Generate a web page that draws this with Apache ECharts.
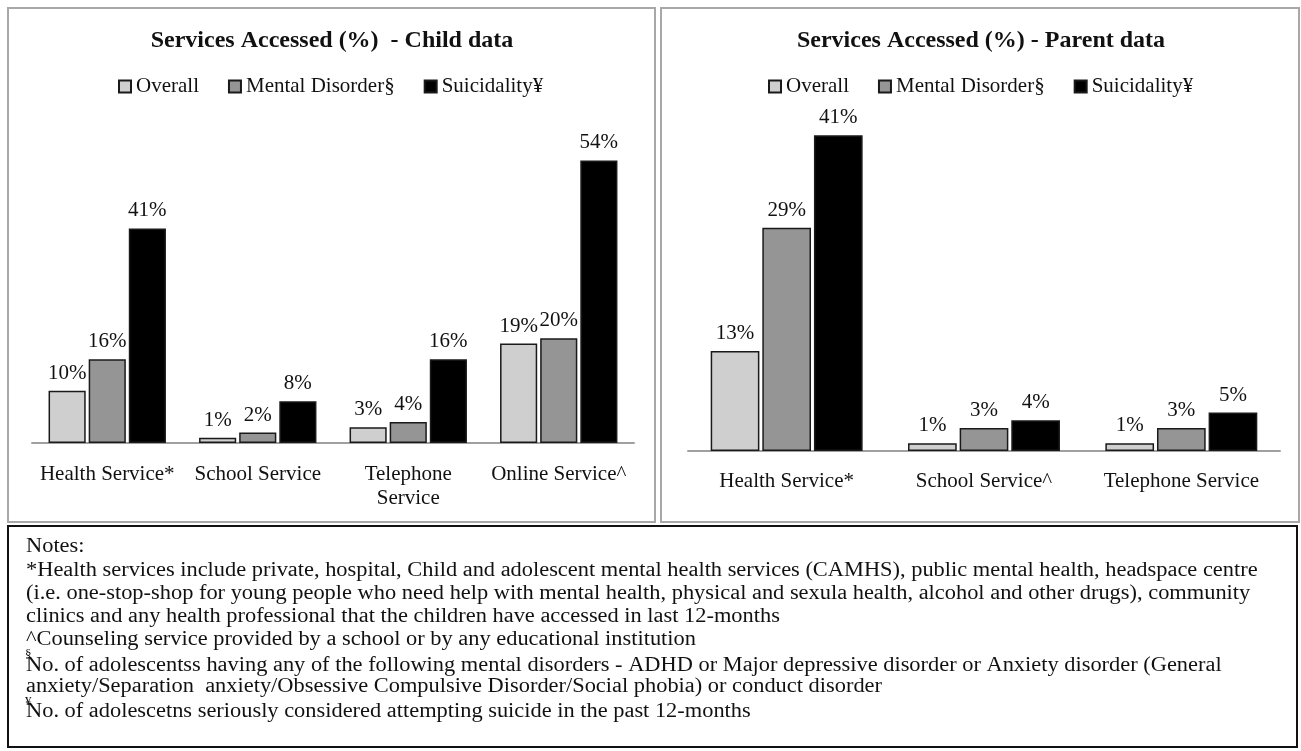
<!DOCTYPE html>
<html>
<head>
<meta charset="utf-8">
<script src="https://cdn.jsdelivr.net/npm/echarts@6/dist/echarts.min.js"></script>
<style>
  html, body { margin: 0; padding: 0; background: #ffffff; }
  #chart { width: 1301px; height: 751px; }
</style>
</head>
<body>
<div id="chart"></div>
<script>
// ---- Data ----
const seriesNames = ['Overall', 'Mental Disorder§', 'Suicidality¥'];
const childCategories = ['Health Service*', 'School Service', 'Telephone Service', 'Online Service^'];
const childOverall = [10, 1, 3, 19];
const childMental = [16, 2, 4, 20];
const childSuicidality = [41, 8, 16, 54];
const parentCategories = ['Health Service*', 'School Service^', 'Telephone Service'];
const parentOverall = [13, 1, 1];
const parentMental = [29, 3, 3];
const parentSuicidality = [41, 4, 5];
const childTitle = 'Services Accessed (%)  - Child data';
const parentTitle = 'Services Accessed (%) - Parent data';
const notesLines = [
  'Notes:',
  '*Health services include private, hospital, Child and adolescent mental health services (CAMHS), public mental health, headspace centre',
  '(i.e. one-stop-shop for young people who need help with mental health, physical and sexula health, alcohol and other drugs), community',
  'clinics and any health professional that the children have accessed in last 12-months',
  '^Counseling service provided by a school or by any educational institution',
  'No. of adolescentss having any of the following mental disorders - ADHD or Major depressive disorder or Anxiety disorder (General',
  'anxiety/Separation  anxiety/Obsessive Compulsive Disorder/Social phobia) or conduct disorder',
  'No. of adolescetns seriously considered attempting suicide in the past 12-months'
];
const notesSup = [null, null, null, null, null, '§', null, '¥'];

// ---- Styles ----
const FONT = "'Liberation Serif', 'Times New Roman', serif";
const colors = ['#cfcfcf', '#959595', '#000000'];

const chart = echarts.init(document.getElementById('chart'), null, { renderer: 'canvas' });

function makeSeries(names, datas, axisIndex, catGap, barGap) {
  return datas.map((d, i) => ({
    name: names[i],
    type: 'bar',
    xAxisIndex: axisIndex,
    yAxisIndex: axisIndex,
    data: d,
    barGap: barGap,
    barCategoryGap: catGap,
    itemStyle: { color: colors[i], borderColor: '#1a1a1a', borderWidth: 1.5 },
    label: {
      show: true, position: 'top', distance: 7,
      formatter: '{c}%', fontFamily: FONT, fontSize: 21, color: '#111'
    },
    emphasis: { disabled: true },
    animation: false
  }));
}

const graphics = [
  { type: 'rect', shape: { x: 8, y: 8, width: 647, height: 514 }, style: { fill: 'none', stroke: '#a8a8a8', lineWidth: 2 }, z: 0 },
  { type: 'rect', shape: { x: 661, y: 8, width: 638, height: 514 }, style: { fill: 'none', stroke: '#a8a8a8', lineWidth: 2 }, z: 0 },
  { type: 'rect', shape: { x: 8, y: 526, width: 1289, height: 221 }, style: { fill: 'none', stroke: '#111', lineWidth: 2 }, z: 0 }
];
const lineY0 = 547, lineStep = 23.3, notesScaleX = 1.12;
notesLines.forEach((t, i) => {
  const y = lineY0 + i * lineStep + (notesSup[i] ? 2 : 0);
  graphics.push({ type: 'text', x: 26, y: y, scaleX: notesScaleX,
    style: { text: t, x: 0, y: 0, font: '20px ' + FONT, fill: '#111', verticalAlign: 'middle' } });
  if (notesSup[i]) {
    graphics.push({ type: 'text', x: 25, y: y - 11,
      style: { text: notesSup[i], x: 0, y: 0, font: '13px ' + FONT, fill: '#111', verticalAlign: 'middle' } });
  }
});

const legendCommon = {
  data: seriesNames, itemWidth: 12, itemHeight: 12, itemGap: 29, padding: 0,
  icon: 'rect', textStyle: { fontFamily: FONT, fontSize: 21, color: '#111' },
  selectedMode: false
};

const option = {
  backgroundColor: '#ffffff',
  animation: false,
  title: [
    { text: childTitle, left: 332, top: 29, textAlign: 'center', padding: 0,
      textStyle: { fontFamily: FONT, fontWeight: 'bold', fontSize: 24, color: '#111' } },
    { text: parentTitle, left: 981, top: 29, textAlign: 'center', padding: 0,
      textStyle: { fontFamily: FONT, fontWeight: 'bold', fontSize: 24, color: '#111' } }
  ],
  legend: [
    Object.assign({ left: 118, top: 76 }, legendCommon),
    Object.assign({ left: 768, top: 76 }, legendCommon)
  ],
  grid: [
    { left: 32, top: 129, width: 602, height: 314 },
    { left: 688, top: 104.5, width: 592, height: 346.5 }
  ],
  xAxis: [
    { type: 'category', gridIndex: 0, data: childCategories,
      axisLine: { lineStyle: { color: '#a0a0a0', width: 2 } }, axisTick: { show: false },
      axisLabel: { margin: 19, fontFamily: FONT, fontSize: 21, color: '#111', lineHeight: 24, interval: 0,
        formatter: v => v === 'Telephone Service' ? 'Telephone\nService' : v } },
    { type: 'category', gridIndex: 1, data: parentCategories,
      axisLine: { lineStyle: { color: '#a0a0a0', width: 2 } }, axisTick: { show: false },
      axisLabel: { margin: 18, fontFamily: FONT, fontSize: 21, color: '#111', lineHeight: 24, interval: 0 } }
  ],
  yAxis: [
    { type: 'value', gridIndex: 0, min: 0, max: 60, show: false, splitLine: { show: false } },
    { type: 'value', gridIndex: 1, min: 0, max: 45, show: false, splitLine: { show: false } }
  ],
  series: [].concat(
    makeSeries(seriesNames, [childOverall, childMental, childSuicidality], 0, '22%', '8%'),
    makeSeries(seriesNames, [parentOverall, parentMental, parentSuicidality], 1, '23%', '6%')
  ),
  graphic: graphics
};
chart.setOption(option);
</script>
</body>
</html>
